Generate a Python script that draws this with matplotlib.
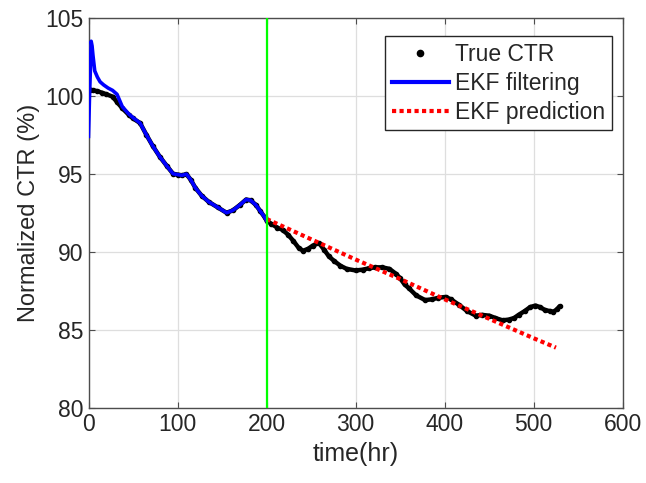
import matplotlib.pyplot as plt
from matplotlib.lines import Line2D

plt.rcParams['font.family'] = ['Liberation Sans', 'DejaVu Sans']

# true CTR samples
t_true = [2, 5, 10, 15, 20, 27, 32, 38, 45, 50, 58, 65, 72, 80, 88, 95, 100,
          105, 110, 115, 120, 127, 135, 145, 155, 162, 170, 177, 182, 188, 193,
          198, 200, 205, 212, 218, 224, 230, 236, 241, 247, 252, 259, 265, 270,
          276, 283, 290, 300, 308, 315, 322, 330, 338, 345, 350, 355, 360, 368,
          378, 386, 393, 401, 407, 416, 425, 435, 442, 450, 457, 465, 472, 478,
          483, 490, 496, 502, 507, 513, 518, 522, 526, 529]
ctr_true = [100.4, 100.35, 100.3, 100.2, 100.1, 99.95, 99.6, 99.2, 98.8, 98.55,
            98.25, 97.5, 96.8, 96.1, 95.5, 95.0, 94.95, 94.9, 94.98, 94.6, 94.1,
            93.6, 93.2, 92.85, 92.5, 92.65, 93.0, 93.35, 93.3, 93.0, 92.6, 92.2,
            92.0, 91.8, 91.55, 91.4, 91.1, 90.7, 90.25, 90.06, 90.2, 90.4, 90.55,
            90.1, 89.7, 89.4, 89.1, 88.9, 88.8, 88.85, 88.94, 89.0, 89.0, 88.9,
            88.6, 88.3, 87.9, 87.65, 87.2, 86.9, 86.95, 87.05, 87.1, 86.95, 86.6,
            86.2, 85.9, 85.95, 85.9, 85.75, 85.6, 85.65, 85.75, 85.95, 86.2,
            86.45, 86.55, 86.45, 86.25, 86.2, 86.15, 86.3, 86.5]

# EKF filtering estimate (0-200 hr)
t_ekf = [0, 0.5, 1, 2, 3, 4, 5, 7, 10, 13, 17, 22, 27, 32, 38, 45, 50, 58, 65,
         72, 80, 88, 95, 100, 105, 110, 115, 120, 127, 135, 145, 155, 162, 170,
         177, 182, 188, 193, 198, 200]
ctr_ekf = [97.4, 98.5, 99.7, 101.5, 103.5, 103.2, 102.6, 101.6, 101.2, 100.9,
           100.7, 100.5, 100.35, 100.1, 99.3, 98.85, 98.6, 98.25, 97.5, 96.8,
           96.1, 95.5, 95.0, 94.95, 94.9, 94.98, 94.6, 94.1, 93.6, 93.2, 92.85,
           92.5, 92.65, 93.0, 93.35, 93.3, 93.0, 92.6, 92.2, 92.0]

# EKF prediction (200 hr onward)
t_pred = [200, 250, 300, 350, 400, 450, 500, 525]
ctr_pred = [92.1, 90.8, 89.5, 88.25, 86.95, 85.7, 84.45, 83.85]

split_time = 200

txt = '#262626'
fig = plt.figure(figsize=(6.46, 4.83), dpi=100)
ax = fig.add_axes([0.137, 0.156, 0.827, 0.807])

ax.plot(t_true, ctr_true, color='k', lw=3.2, solid_capstyle='round',
        solid_joinstyle='round', zorder=3)
ax.plot(t_true, ctr_true, '.', color='k', ms=6, zorder=3)
ax.plot(t_ekf, ctr_ekf, color='#0000ff', lw=2.6, zorder=4)
ax.plot(t_pred, ctr_pred, color='#ff0000', lw=3, ls=(0, (1, 0.8)), zorder=5)
ax.axvline(split_time, color='#00ff00', lw=1.6, zorder=6)

ax.set_xlim(0, 600)
ax.set_ylim(80, 105)
ax.set_xticks(range(0, 601, 100))
ax.set_yticks(range(80, 106, 5))
ax.grid(True, color='#dedede', lw=0.9)
ax.set_axisbelow(True)
ax.tick_params(direction='in', top=True, right=True, labelsize=16.5,
               colors='#4d4d4d', labelcolor=txt, length=4)
for s in ax.spines.values():
    s.set_color('#4d4d4d')
    s.set_linewidth(1.0)

ax.set_xlabel('time(hr)', fontsize=18, color=txt, labelpad=5)
ax.set_ylabel('Normalized CTR (%)', fontsize=17, color=txt, labelpad=4)

handles = [
    Line2D([], [], color='k', marker='.', ls='none', ms=9),
    Line2D([], [], color='#0000ff', lw=3),
    Line2D([], [], color='#ff0000', lw=3, ls=(0, (1, 0.8))),
]
leg = ax.legend(handles, ['True CTR', 'EKF filtering', 'EKF prediction'],
                loc='upper right', bbox_to_anchor=(0.979, 0.953), fontsize=16.5,
                fancybox=False, framealpha=1, edgecolor='#262626',
                handlelength=2.5, handletextpad=0.25, borderpad=0.3,
                labelspacing=0.25, borderaxespad=0)
leg.get_frame().set_linewidth(1.0)
for t in leg.get_texts():
    t.set_color(txt)

fig.savefig('out.png', dpi=100)
